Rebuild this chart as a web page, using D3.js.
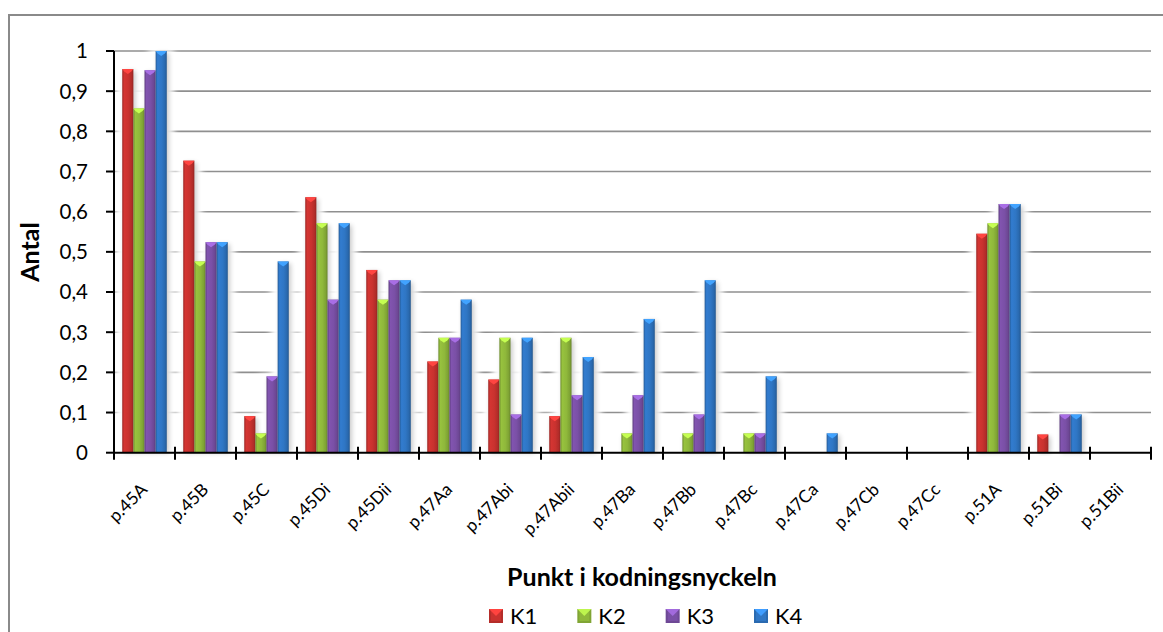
<!DOCTYPE html>
<html>
<head>
<meta charset="utf-8">
<script src="https://cdn.jsdelivr.net/npm/d3@7/dist/d3.min.js"></script>
<style>
  html, body { margin: 0; padding: 0; background: #ffffff; }
  svg { display: block; font-family: Lato, "Open Sans", sans-serif; }
</style>
</head>
<body>
<svg id="chart" width="1163" height="632"></svg>
<script>
// Categories (coding key points)
const categories = ["p.45A","p.45B","p.45C","p.45Di","p.45Dii","p.47Aa","p.47Abi","p.47Abii",
  "p.47Ba","p.47Bb","p.47Bc","p.47Ca","p.47Cb","p.47Cc","p.51A","p.51Bi","p.51Bii"];

const seriesNames = ["K1","K2","K3","K4"];

// Share per category for each series
const k1 = [0.955, 0.727, 0.091, 0.636, 0.455, 0.227, 0.182, 0.091, 0, 0, 0, 0, 0, 0, 0.545, 0.045, 0];
const k2 = [0.857, 0.476, 0.048, 0.571, 0.381, 0.286, 0.286, 0.286, 0.048, 0.048, 0.048, 0, 0, 0, 0.571, 0, 0];
const k3 = [0.952, 0.524, 0.190, 0.381, 0.429, 0.286, 0.095, 0.143, 0.143, 0.095, 0.048, 0, 0, 0, 0.619, 0.095, 0];
const k4 = [1.0, 0.524, 0.476, 0.571, 0.429, 0.381, 0.286, 0.238, 0.333, 0.429, 0.190, 0.048, 0, 0, 0.619, 0.095, 0];

const yTicks = [0, 0.1, 0.2, 0.3, 0.4, 0.5, 0.6, 0.7, 0.8, 0.9, 1];

const seriesValues = [k1, k2, k3, k4];
const seriesColors = ["#c9322f", "#8fb83b", "#7a50a6", "#2f76c4"];

const svg = d3.select("#chart");
const defs = svg.append("defs");

const plot = { left: 114, right: 1151, top: 51, bottom: 452.7 };

// Outer chart frame
svg.append("rect")
  .attr("x", 9).attr("y", 15)
  .attr("width", 1300).attr("height", 800)
  .attr("fill", "#ffffff")
  .attr("stroke", "#8a8a8a").attr("stroke-width", 2);

const x0 = d3.scaleBand().domain(categories)
  .range([plot.left, plot.right])
  .paddingInner(0.27).paddingOuter(0.135);
const xCat = d3.scaleBand().domain(categories).range([plot.left, plot.right]);
const x1 = d3.scaleBand().domain(seriesNames).range([0, x0.bandwidth()]);
const y = d3.scaleLinear().domain([0, 1]).range([plot.bottom, plot.top]);

// Gradients giving each bar a rounded, bevelled look
seriesColors.forEach((c, i) => {
  const base = d3.color(c);
  const g = defs.append("linearGradient").attr("id", "grad" + i)
    .attr("x1", "0").attr("x2", "1").attr("y1", "0").attr("y2", "0");
  g.append("stop").attr("offset", "0%").attr("stop-color", base.darker(0.7));
  g.append("stop").attr("offset", "18%").attr("stop-color", base.brighter(0.15));
  g.append("stop").attr("offset", "55%").attr("stop-color", base);
  g.append("stop").attr("offset", "85%").attr("stop-color", base.darker(0.35));
  g.append("stop").attr("offset", "100%").attr("stop-color", base.darker(0.9));
});

const blur = defs.append("filter").attr("id", "halo")
  .attr("x", "-80%").attr("y", "-20%").attr("width", "260%").attr("height", "140%");
blur.append("feGaussianBlur").attr("stdDeviation", 3);

const shadow = defs.append("filter").attr("id", "shadow")
  .attr("x", "-80%").attr("y", "-20%").attr("width", "260%").attr("height", "140%");
shadow.append("feGaussianBlur").attr("stdDeviation", 2.5);

// Gridlines
svg.append("g").selectAll("line").data(yTicks.filter(d => d > 0)).join("line")
  .attr("x1", plot.left).attr("x2", plot.right)
  .attr("y1", d => y(d)).attr("y2", d => y(d))
  .attr("stroke", "#8f8f8f").attr("stroke-width", 1.6);

// Bar records built from the series arrays
const bars = [];
categories.forEach((cat, ci) => {
  seriesNames.forEach((s, si) => {
    bars.push({ cat, s, si, v: seriesValues[si][ci] });
  });
});
const visible = bars.filter(d => d.v > 0);

// White halo and soft shadow behind the bars
const back = svg.append("g");
back.selectAll("rect.halo").data(visible).join("rect")
  .attr("class", "halo")
  .attr("x", d => x0(d.cat) + x1(d.s) - 7)
  .attr("y", d => y(d.v) - 2)
  .attr("width", x1.bandwidth() + 14)
  .attr("height", d => plot.bottom - y(d.v) + 2)
  .attr("fill", "#ffffff").attr("filter", "url(#halo)");
back.selectAll("rect.shadow").data(visible).join("rect")
  .attr("class", "shadow")
  .attr("x", d => x0(d.cat) + x1(d.s) + 2)
  .attr("y", d => y(d.v) + 2)
  .attr("width", x1.bandwidth())
  .attr("height", d => plot.bottom - y(d.v) - 2)
  .attr("fill", "#000000").attr("opacity", 0.22).attr("filter", "url(#shadow)");

const barG = svg.append("g");
barG.selectAll("rect.bar").data(visible).join("rect")
  .attr("class", "bar")
  .attr("x", d => x0(d.cat) + x1(d.s))
  .attr("y", d => y(d.v))
  .attr("width", x1.bandwidth())
  .attr("height", d => plot.bottom - y(d.v))
  .attr("fill", d => `url(#grad${d.si})`);

// Bevelled cap on top of each bar
barG.selectAll("path.cap").data(visible).join("path")
  .attr("class", "cap")
  .attr("d", d => {
    const bx = x0(d.cat) + x1(d.s), bw = x1.bandwidth(), by = y(d.v);
    return `M${bx},${by} L${bx + bw},${by} L${bx + bw - 2},${by + 2.5} L${bx + bw / 2},${by + 5} L${bx + 2},${by + 2.5} Z`;
  })
  .attr("fill", d => d3.color(seriesColors[d.si]).brighter(0.9));

// Y axis
const yAxis = svg.append("g");
yAxis.append("line")
  .attr("x1", plot.left).attr("x2", plot.left)
  .attr("y1", plot.top).attr("y2", plot.bottom)
  .attr("stroke", "#000").attr("stroke-width", 2);
yAxis.selectAll("line.tick").data(yTicks).join("line")
  .attr("class", "tick")
  .attr("x1", plot.left - 8).attr("x2", plot.left)
  .attr("y1", d => y(d)).attr("y2", d => y(d))
  .attr("stroke", "#000").attr("stroke-width", 2);
yAxis.selectAll("text").data(yTicks).join("text")
  .attr("x", 88).attr("y", d => y(d))
  .attr("dy", "0.36em")
  .attr("text-anchor", "end")
  .attr("font-size", 20.5)
  .attr("fill", "#000")
  .text(d => d3.format(".1~f")(d).replace(".", ","));

// X axis
const xAxis = svg.append("g");
xAxis.append("line")
  .attr("x1", plot.left).attr("x2", plot.right)
  .attr("y1", plot.bottom).attr("y2", plot.bottom)
  .attr("stroke", "#000").attr("stroke-width", 2);
const edges = categories.map(c => xCat(c)).concat([plot.right]);
xAxis.selectAll("line.tick").data(edges).join("line")
  .attr("class", "tick")
  .attr("x1", d => d).attr("x2", d => d)
  .attr("y1", plot.bottom - 6).attr("y2", plot.bottom + 7)
  .attr("stroke", "#000").attr("stroke-width", 2);
xAxis.selectAll("text").data(categories).join("text")
  .attr("transform", d => `translate(${xCat(d) + xCat.bandwidth() / 2 + 4},${plot.bottom + 38}) rotate(-45)`)
  .attr("text-anchor", "end")
  .attr("font-size", 17.5)
  .attr("fill", "#000")
  .text(d => d);

// Axis titles
svg.append("text")
  .attr("x", 642).attr("y", 586)
  .attr("text-anchor", "middle")
  .attr("font-size", 25).attr("font-weight", "bold")
  .text("Punkt i kodningsnyckeln");
svg.append("text")
  .attr("transform", "translate(39,252) rotate(-90)")
  .attr("text-anchor", "middle")
  .attr("font-size", 25).attr("font-weight", "bold")
  .text("Antal");

// Legend
const legend = svg.append("g");
const legendX = d3.scalePoint().domain(seriesNames).range([489, 754]);
const item = legend.selectAll("g").data(seriesNames).join("g")
  .attr("transform", d => `translate(${legendX(d)},609)`);
item.append("rect")
  .attr("width", 14).attr("height", 14)
  .attr("fill", (d, i) => d3.color(seriesColors[i]).darker(0.3));
item.append("rect")
  .attr("x", 2).attr("y", 2).attr("width", 10).attr("height", 10)
  .attr("fill", (d, i) => seriesColors[i]);
item.append("path")
  .attr("d", "M0,0 L14,0 L7,7 Z")
  .attr("fill", (d, i) => d3.color(seriesColors[i]).brighter(0.8));
item.append("text")
  .attr("x", 21).attr("y", 7).attr("dy", "0.36em")
  .attr("font-size", 22)
  .attr("fill", "#000")
  .text(d => d);
</script>
</body>
</html>
